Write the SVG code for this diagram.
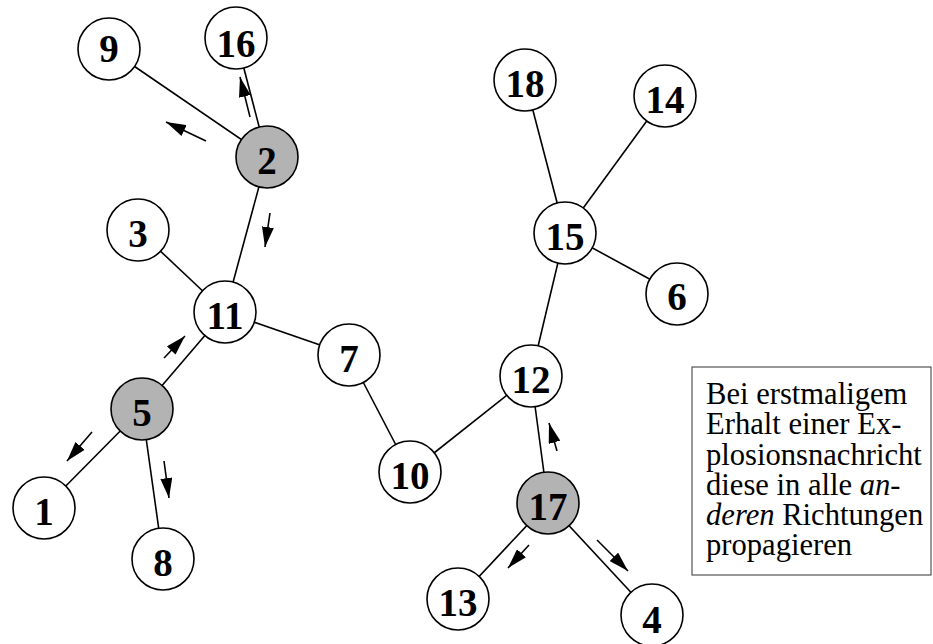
<svg xmlns="http://www.w3.org/2000/svg" width="933" height="644" viewBox="0 0 933 644">
  <style>
    .edge { stroke: #000; stroke-width: 1.6; fill: none; }
    .msg { stroke: #000; stroke-width: 1.6; fill: none; marker-end: url(#head); }
    .node circle { fill: #fff; stroke: #000; stroke-width: 1.6; }
    .node.active circle { fill: #b3b3b3; }
    .node text { font-family: "Liberation Serif", "Times New Roman", serif; font-weight: bold; font-size: 39px; text-anchor: middle; fill: #000; }
    .note { font-family: "Liberation Serif", "Times New Roman", serif; font-size: 30.6px; fill: #000; }
  </style>
  <defs>
    <marker id="head" viewBox="0 0 20 12" refX="20" refY="6" markerWidth="20" markerHeight="12" markerUnits="userSpaceOnUse" orient="auto">
      <path d="M0,0 L20,6 L0,12 Z" fill="#000"/>
    </marker>
  </defs>

  <rect width="933" height="644" fill="#fff"/>

  <!-- tree edges -->
  <g id="edges">
    <line class="edge" x1="109" y1="49" x2="267" y2="157"/>
    <line class="edge" x1="236" y1="38" x2="267" y2="157"/>
    <line class="edge" x1="267" y1="157" x2="225" y2="312"/>
    <line class="edge" x1="138" y1="230" x2="225" y2="312"/>
    <line class="edge" x1="225" y1="312" x2="142" y2="409"/>
    <line class="edge" x1="225" y1="312" x2="349" y2="355"/>
    <line class="edge" x1="142" y1="409" x2="44" y2="508"/>
    <line class="edge" x1="142" y1="409" x2="163" y2="559"/>
    <line class="edge" x1="349" y1="355" x2="410" y2="472"/>
    <line class="edge" x1="410" y1="472" x2="531" y2="376"/>
    <line class="edge" x1="531" y1="376" x2="565" y2="233"/>
    <line class="edge" x1="531" y1="376" x2="548" y2="503"/>
    <line class="edge" x1="565" y1="233" x2="525" y2="80"/>
    <line class="edge" x1="565" y1="233" x2="665" y2="96"/>
    <line class="edge" x1="565" y1="233" x2="677" y2="294"/>
    <line class="edge" x1="548" y1="503" x2="458" y2="599"/>
    <line class="edge" x1="548" y1="503" x2="652" y2="615"/>
  </g>

  <!-- propagation arrows -->
  <g id="messages">
    <line class="msg" x1="206" y1="141" x2="166" y2="122"/>
    <line class="msg" x1="250" y1="117" x2="240" y2="77"/>
    <line class="msg" x1="270" y1="213" x2="265" y2="247"/>
    <line class="msg" x1="164" y1="358" x2="185" y2="336"/>
    <line class="msg" x1="92" y1="432" x2="67" y2="461"/>
    <line class="msg" x1="164" y1="461" x2="169" y2="498"/>
    <line class="msg" x1="557" y1="451" x2="549" y2="423"/>
    <line class="msg" x1="529" y1="545" x2="508" y2="568"/>
    <line class="msg" x1="597" y1="540" x2="628" y2="571"/>
  </g>

  <g id="n9" class="node"><circle cx="109" cy="49" r="31"/><text x="109" y="62">9</text></g>
  <g id="n16" class="node"><circle cx="236" cy="38" r="31"/><text x="236" y="57">16</text></g>
  <g id="n2" class="node active"><circle cx="267" cy="157" r="31"/><text x="267" y="174">2</text></g>
  <g id="n3" class="node"><circle cx="138" cy="230" r="31"/><text x="138" y="247">3</text></g>
  <g id="n11" class="node"><circle cx="225" cy="312" r="31"/><text x="225" y="329">11</text></g>
  <g id="n7" class="node"><circle cx="349" cy="355" r="31"/><text x="349" y="372">7</text></g>
  <g id="n5" class="node active"><circle cx="142" cy="409" r="31"/><text x="142" y="426">5</text></g>
  <g id="n1" class="node"><circle cx="44" cy="508" r="31"/><text x="44" y="525">1</text></g>
  <g id="n8" class="node"><circle cx="163" cy="559" r="31"/><text x="163" y="576">8</text></g>
  <g id="n10" class="node"><circle cx="410" cy="472" r="31"/><text x="410" y="489">10</text></g>
  <g id="n12" class="node"><circle cx="531" cy="376" r="31"/><text x="531" y="393">12</text></g>
  <g id="n15" class="node"><circle cx="565" cy="233" r="31"/><text x="565" y="250">15</text></g>
  <g id="n18" class="node"><circle cx="525" cy="80" r="31"/><text x="525" y="97">18</text></g>
  <g id="n14" class="node"><circle cx="665" cy="96" r="31"/><text x="665" y="113">14</text></g>
  <g id="n6" class="node"><circle cx="677" cy="294" r="31"/><text x="677" y="310">6</text></g>
  <g id="n17" class="node active"><circle cx="548" cy="503" r="31"/><text x="548" y="520">17</text></g>
  <g id="n13" class="node"><circle cx="458" cy="599" r="31"/><text x="458" y="616">13</text></g>
  <g id="n4" class="node"><circle cx="652" cy="615" r="31"/><text x="652" y="633">4</text></g>

  <!-- explanation box -->
  <g id="note">
    <rect x="692" y="367" width="239" height="208" fill="#fff" stroke="#333" stroke-width="1"/>
    <text class="note" x="706" y="403.5">Bei erstmaligem</text>
    <text class="note" x="706" y="434">Erhalt einer Ex-</text>
    <text class="note" x="706" y="464.5">plosionsnachricht</text>
    <text class="note" x="706" y="495">diese in alle <tspan font-style="italic">an-</tspan></text>
    <text class="note" x="706" y="525"><tspan font-style="italic">deren</tspan> Richtungen</text>
    <text class="note" x="706" y="555">propagieren</text>
  </g>
</svg>
